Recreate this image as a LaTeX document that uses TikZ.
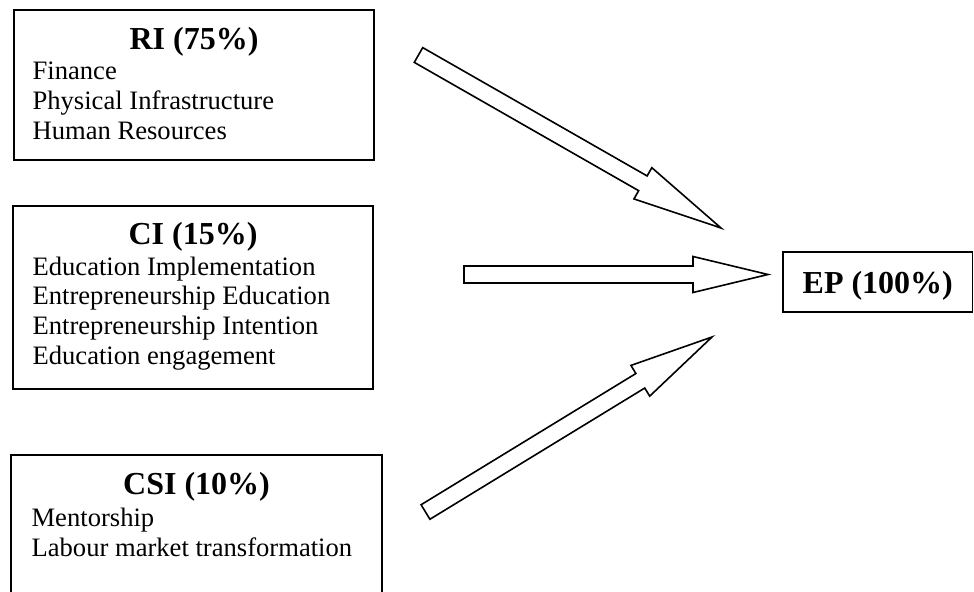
\documentclass[tikz,border=0pt]{standalone}
\usepackage{fontspec}
\setmainfont{Liberation Serif}
\usepackage{tikz}
\usetikzlibrary{positioning,calc}

% styles for the boxes, the headings in them and the item lists
\tikzset{BoxStyle/.style={draw, line width=0.8pt, rectangle, inner sep=0pt},
  TitleStyle/.style={font=\fontsize{16}{18}\selectfont\bfseries, anchor=base, inner sep=0pt},
  % base west of a list is the baseline of its last line
  ItemStyle/.style={font=\fontsize{13.3}{14.8}\selectfont, align=left, anchor=base west, inner sep=0pt},
  ArrowStyle/.style={draw, line width=0.8pt, line join=miter, fill=white}}

\newcommand{\shaftw}{4.25pt}
\newcommand{\headw}{9pt}
% outlined block arrow : #1 name, #2 middle of the tail, #3 tip, #4 length of the head
\newcommand{\BlockArrow}[4]{%
  \coordinate (#1-b) at ($(#3)!#4!(#2)$);
  \draw[ArrowStyle] ($(#2)!\shaftw!90:(#3)$) -- ($(#1-b)!\shaftw!90:(#3)$)
    -- ($(#1-b)!\headw!90:(#3)$) -- (#3) -- ($(#1-b)!\headw!-90:(#3)$)
    -- ($(#1-b)!\shaftw!-90:(#3)$) -- ($(#2)!\shaftw!-90:(#3)$) -- cycle;}

\begin{document}
\begin{tikzpicture}[x=0.5pt,y=-0.5pt]
      \useasboundingbox (0,0) rectangle (974,592);
      % the CSI box runs off the bottom of the page, so clip it
      \clip (0,0) rectangle (974,592);
      % the three boxes on the left
      \node[BoxStyle, minimum width=180pt, minimum height=75pt] (RI) at (194,85) {};
      \node[BoxStyle, minimum width=180pt, minimum height=91.5pt] (CI) at (193,297.5) {};
      \node[BoxStyle, minimum width=185.5pt, minimum height=82.5pt] (CSI) at (196.5,537.5) {};
      % headings and items, measured from the top left of each box
      \node[TitleStyle] (RItitle) at ($(RI.north)+(0,40)$) {RI (75\%)};
      \node[ItemStyle] (RIitems) at ($(RI.north west)+(19,130)$)
        {Finance\\Physical Infrastructure\\Human Resources};
      \node[TitleStyle] (CItitle) at ($(CI.north)+(0,39)$) {CI (15\%)};
      \node[ItemStyle] (CIitems) at ($(CI.north west)+(20,159)$)
        {Education Implementation\\Entrepreneurship Education\\Entrepreneurship Intention\\Education engagement};
      \node[TitleStyle] (CSItitle) at ($(CSI.north)+(0,40)$) {CSI (10\%)};
      \node[ItemStyle] (CSIitems) at ($(CSI.north west)+(21,102)$)
        {Mentorship\\Labour market transformation};
      % the target box
      \node[BoxStyle, minimum width=94.75pt, minimum height=30pt,
        font=\fontsize{16}{18}\selectfont\bfseries, text depth=0pt] (EP) at (877.75,282) {EP (100\%)};
      % ends of the three arrows
      \coordinate (RItail) at (418.5,55);
      \coordinate (RItip) at (721,228);
      \coordinate (CItail) at (464,274.5);
      \coordinate (CItip) at (768,274.5);
      \coordinate (CSItail) at (425.5,512);
      \coordinate (CSItip) at (712,337);
      \BlockArrow{RIarrow}{RItail}{RItip}{45pt}
      \BlockArrow{CIarrow}{CItail}{CItip}{37.5pt}
      \BlockArrow{CSIarrow}{CSItail}{CSItip}{42pt}
    \end{tikzpicture}
\end{document}
